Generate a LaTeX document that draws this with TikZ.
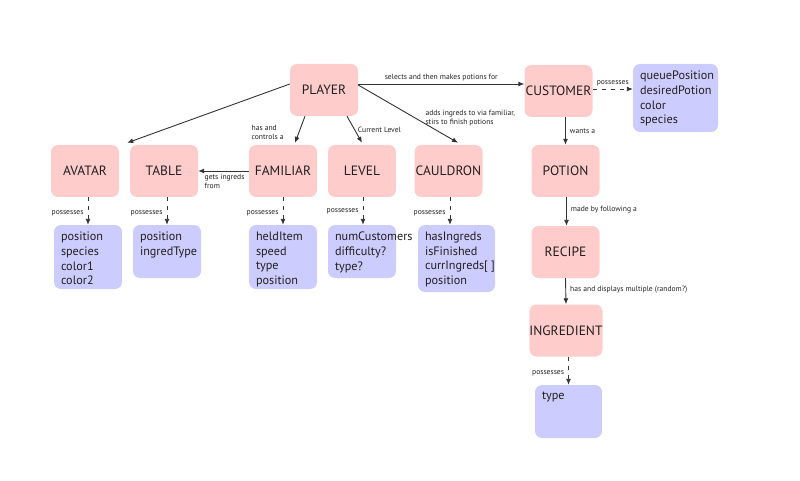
\documentclass[tikz,border=0pt]{standalone}
\usepackage{fontspec}
\setmainfont{PT Sans}
\usetikzlibrary{arrows.meta,calc}
\definecolor{pinkf}{HTML}{FFCCCC}
\definecolor{bluef}{HTML}{CCCCFF}
\definecolor{ink}{HTML}{231F20}
\definecolor{linec}{HTML}{333333}
\begin{document}
\begin{tikzpicture}[x=1pt,y=-1pt,
  pbox/.style={rounded corners=7pt, fill=pinkf, minimum width=68pt, minimum height=52pt, inner sep=0pt, font=\fontsize{13.5}{15}\selectfont, text=ink},
  bbox/.style={rounded corners=7pt, fill=bluef, inner sep=0pt},
  props/.style={anchor=north west, align=left, inner sep=0pt, font=\fontsize{12.2}{14.7}\selectfont, text=ink},
  lbl/.style={font=\fontsize{7.6}{9}\selectfont, text=ink, inner sep=0pt, align=left},
  conn/.style={draw=linec, line width=0.9pt, -{Latex[length=6pt,width=5pt]}},
  poss/.style={conn, dash pattern=on 4pt off 5pt}]
\useasboundingbox (0,0) rectangle (800,481);

% pink entity boxes
\node[pbox] (player) at (324,90) {PLAYER};
\node[pbox] (avatar) at (85,171) {AVATAR};
\node[pbox] (table) at (164,171) {TABLE};
\node[pbox] (familiar) at (283,171) {FAMILIAR};
\node[pbox] (level) at (362,171) {LEVEL};
\node[pbox] (cauldron) at (448.5,171) {CAULDRON};
\node[pbox] (customer) at (558.5,91) {CUSTOMER};
\node[pbox] (potion) at (565.5,171) {POTION};
\node[pbox] (recipe) at (565.5,252) {RECIPE};
\node[pbox] (ingredient) at (566,330.5) {INGREDIENT};

% blue property boxes
\node[bbox, minimum width=68pt, minimum height=64pt] (avatarp) at (88,257) {};
\node[bbox, minimum width=68pt, minimum height=53pt] (tablep) at (167,251.5) {};
\node[bbox, minimum width=68pt, minimum height=64pt] (familiarp) at (283,257) {};
\node[bbox, minimum width=68pt, minimum height=53pt] (levelp) at (362,251.5) {};
\node[bbox, minimum width=77pt, minimum height=67pt] (cauldronp) at (456.5,258.5) {};
\node[bbox, minimum width=85pt, minimum height=68pt] (customerp) at (675.5,98) {};
\node[bbox, minimum width=67pt, minimum height=53pt] (typep) at (568.5,411.5) {};

\node[props] (avatart) at ([shift={(7,7)}]avatarp.north west) {position\\species\\color1\\color2};
\node[props] (tablet) at ([shift={(7,7)}]tablep.north west) {position\\ingredType};
\node[props] (familiart) at ([shift={(7,7)}]familiarp.north west) {heldItem\\speed\\type\\position};
\node[props] (levelt) at ([shift={(7,7)}]levelp.north west) {numCustomers\\difficulty?\\type?};
\node[props] (cauldront) at ([shift={(7,7)}]cauldronp.north west) {hasIngreds\\isFinished\\currIngreds[ ]\\position};
\node[props] (customert) at ([shift={(7,7)}]customerp.north west) {queuePosition\\desiredPotion\\color\\species};
\node[props] (typet) at ([shift={(7,7)}]typep.north west) {type};

% connectors from PLAYER
\draw[conn] ([shift={(0,-6)}]player.west) -- ([shift={(8,-2)}]avatar.north east);
\draw[conn] ([shift={(-19,0)}]player.south) -- node[lbl, pos=.6, left=15pt] {has and\\controls a} ([shift={(12,-2)}]familiar.north);
\draw[conn] ([shift={(23,0)}]player.south) -- node[lbl, pos=.5, right=3pt] {Current Level} ([shift={(0,-2)}]level.north);
\draw[conn] ([shift={(0,-5)}]player.east) -- node[lbl, pos=.57, right=10pt] {adds ingreds to via familiar,\\stirs to finish potions} ([shift={(9.5,-2)}]cauldron.north);
\draw[conn] ([shift={(0,-6)}]player.east) -- node[lbl, pos=.5, above=3pt] {selects and then makes potions for} ([shift={(0,-7)}]customer.west);

\draw[conn] (familiar.west) -- node[lbl, pos=.88, anchor=north west, yshift=-3pt] {gets ingreds\\from} (table.east);

% chain on the right
\draw[conn] ([xshift=7pt]customer.south) -- node[lbl, pos=.5, right=4pt] {wants a} (potion.north);
\draw[conn] ([xshift=1pt]potion.south) -- node[lbl, pos=.45, right=4pt] {made by following a} ([xshift=1pt]recipe.north);
\draw[conn] (recipe.south) -- node[lbl, pos=.42, right=4pt] {has and displays multiple (random?)} (ingredient.north);

% possesses (dashed)
\draw[poss] (avatar.south -| avatarp.north) -- node[lbl, pos=.6, left=4pt] {possesses} (avatarp.north);
\draw[poss] (table.south -| tablep.north) -- node[lbl, pos=.6, left=4pt] {possesses} (tablep.north);
\draw[poss] (familiar.south) -- node[lbl, pos=.6, left=4pt] {possesses} (familiarp.north);
\draw[poss] ([xshift=1pt]level.south) -- node[lbl, pos=.5, left=4pt] {possesses} ([xshift=1pt]levelp.north);
\draw[poss] ([xshift=1.5pt]cauldron.south) -- node[lbl, pos=.6, left=4pt] {possesses} ([xshift=1.5pt]cauldron.south |- cauldronp.north);
\draw[poss] (ingredient.south -| typep.north) -- node[lbl, pos=.6, left=4pt] {possesses} (typep.north);
\draw[poss] ([shift={(0,-2)}]customer.east) -- node[lbl, pos=.5, above=3pt] {possesses} ([shift={(0,-2)}]customer.east -| customerp.west);
\end{tikzpicture}
\end{document}
